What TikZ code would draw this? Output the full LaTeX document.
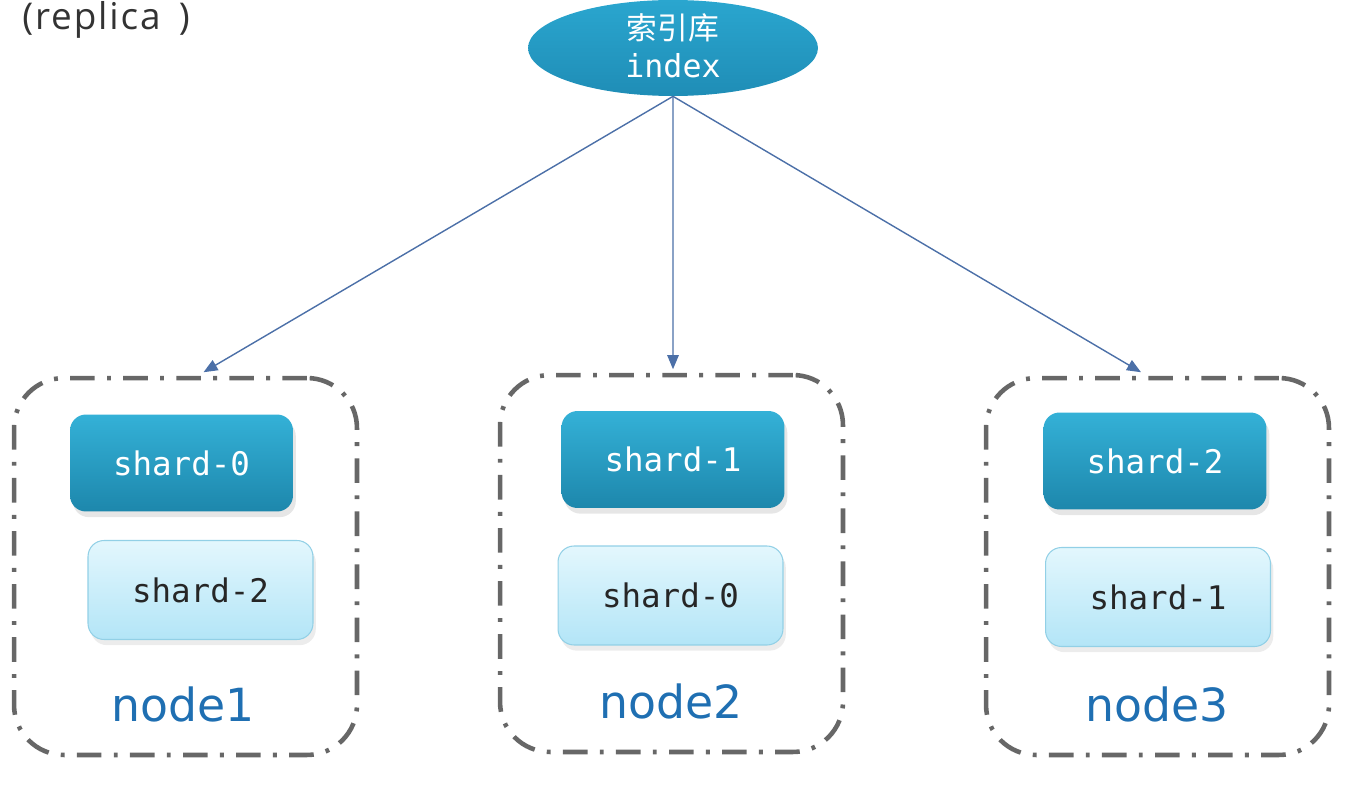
\documentclass[tikz,border=0pt]{standalone}
\usepackage{fontspec}
\setmainfont{Open Sans}
\newfontfamily\cjk{Noto Sans CJK SC}
\newfontfamily\monofont{DejaVu Sans Mono}
\newfontfamily\labelfont{DejaVu Sans}
\newfontfamily\titlefont[LetterSpace=5]{Open Sans}
\usetikzlibrary{arrows.meta,shadows,shapes.geometric}
\definecolor{idxblue}{HTML}{2AA6CF}
\definecolor{idxdark}{HTML}{1F8DB6}
\definecolor{pritop}{HTML}{34B1D7}
\definecolor{pribot}{HTML}{1D87AC}
\definecolor{reptop}{HTML}{E3F7FD}
\definecolor{repbot}{HTML}{B3E5F7}
\definecolor{repline}{HTML}{92D0E6}
\definecolor{arrowblue}{HTML}{4C70A8}
\definecolor{framegray}{HTML}{676767}
\definecolor{nodeblue}{HTML}{1F6FB2}
\tikzset{
  indexnode/.style={ellipse,minimum width=5.8cm,minimum height=1.92cm,
    top color=idxblue,bottom color=idxdark,draw=none,text=white,align=center},
  primary/.style={rectangle,rounded corners=0.32cm,minimum width=4.46cm,minimum height=1.94cm,
    top color=pritop,bottom color=pribot,draw=none,text=white,
    font=\monofont\fontsize{18.5}{22}\selectfont,
    drop shadow={shadow xshift=0.3ex,shadow yshift=-0.6ex,opacity=0.2}},
  replica/.style={rectangle,rounded corners=0.32cm,minimum width=4.5cm,minimum height=1.98cm,
    top color=reptop,bottom color=repbot,draw=repline,line width=0.6pt,text=black!85,
    font=\monofont\fontsize{18.5}{22}\selectfont,
    drop shadow={shadow xshift=0.3ex,shadow yshift=-0.6ex,opacity=0.15}},
  server/.style={rectangle,rounded corners=1cm,minimum width=6.86cm,minimum height=7.54cm,
    draw=framegray,line width=2.6pt,dash pattern=on 14pt off 7pt on 2.2pt off 7pt},
  nodelabel/.style={text=nodeblue,font=\labelfont\fontsize{26}{30}\selectfont},
  link/.style={draw=arrowblue,line width=0.8pt,-{Triangle[length=8pt,width=6.5pt]}}
}
\begin{document}
\begin{tikzpicture}[x=0.02cm,y=-0.02cm]
  \useasboundingbox (0,0) rectangle (1348,787);
  % 标题残留
  \node[anchor=base west,text=black!80,font=\titlefont\fontsize{21}{25}\selectfont,inner sep=0pt] (title) at (22,30) {(replica\,\,\,)};
  % 索引库
  \node[indexnode] (idx) at (673,48) {};
  \node[text=white,font=\cjk\fontsize{17.5}{20}\selectfont] (idxcn) at (673,28) {索引库};
  \node[text=white,font=\monofont\fontsize{18}{20}\selectfont] (idxen) at (673,66) {index};
  % 三个节点
  \node[server] (n1) at (185.5,566.5) {};
  \node[server] (n2) at (671.5,563.5) {};
  \node[server] (n3) at (1157.5,566.5) {};
  % 主分片
  \node[primary] (p0) at (181.5,463) {shard-0};
  \node[primary] (p1) at (673,459.5) {shard-1};
  \node[primary] (p2) at (1155,461) {shard-2};
  % 副本分片
  \node[replica] (r2) at (200.5,590) {shard-2};
  \node[replica] (r0) at (670.5,595.5) {shard-0};
  \node[replica] (r1) at (1158,597) {shard-1};
  % 节点名称
  \node[nodelabel] (l1) at (183,704) {node1};
  \node[nodelabel] (l2) at (671,701) {node2};
  \node[nodelabel] (l3) at (1157,704) {node3};
  % 连线
  \draw[link] (idx.south) -- ([xshift=0.36cm,yshift=2pt]n1.north);
  \draw[link] (idx.south) -- ([xshift=0.03cm,yshift=2pt]n2.north);
  \draw[link] (idx.south) -- ([xshift=-0.33cm,yshift=2pt]n3.north);
\end{tikzpicture}
\end{document}
